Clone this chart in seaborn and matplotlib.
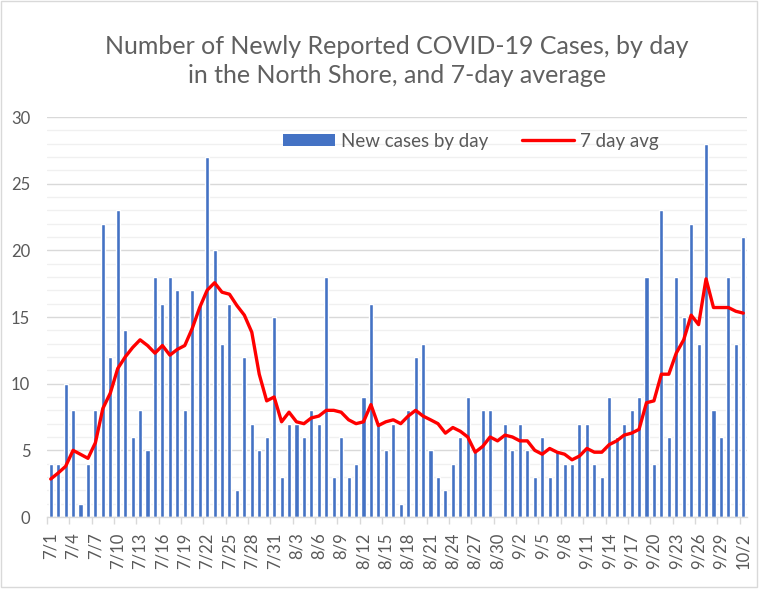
import matplotlib
matplotlib.use("Agg")
import matplotlib.pyplot as plt
from matplotlib.patches import Patch, Rectangle
from matplotlib.lines import Line2D
from matplotlib.ticker import MultipleLocator, FixedLocator
import seaborn as sns
import pandas as pd
import numpy as np

# ---- data ----
dates = (["7/%d" % d for d in range(1, 32)] +
         ["8/%d" % d for d in range(1, 32)] +
         ["9/%d" % d for d in range(1, 31)] +
         ["10/1", "10/2"])

new_cases = [4, 4, 10, 8, 1, 4, 8, 22, 12, 23,
             14, 6, 8, 5, 18, 16, 18, 17, 8, 17,
             16, 27, 20, 13, 16, 2, 12, 7, 5, 6,
             15, 3, 7, 7, 6, 8, 7, 18, 3, 6,
             3, 4, 9, 16, 7, 5, 7, 1, 8, 12,
             13, 5, 3, 2, 4, 6, 9, 5, 8, 8,
             0, 7, 5, 7, 5, 3, 6, 3, 5, 4,
             4, 7, 7, 4, 3, 9, 6, 7, 8, 9,
             18, 4, 23, 6, 18, 15, 22, 13, 28, 8,
             6, 18, 13, 21]

avg7 = [2.85, 3.3, 3.8, 5.0, 4.7, 4.4, 5.57, 8.14, 9.29, 11.14,
        12.0, 12.71, 13.29, 12.86, 12.29, 12.86, 12.14, 12.57, 12.86, 14.14,
        15.71, 17.0, 17.57, 16.86, 16.71, 15.86, 15.14, 13.86, 10.71, 8.71,
        9.0, 7.14, 7.86, 7.14, 7.0, 7.43, 7.57, 8.0, 8.0, 7.86,
        7.29, 7.0, 7.14, 8.43, 6.86, 7.14, 7.29, 7.0, 7.57, 8.0,
        7.57, 7.29, 7.0, 6.29, 6.71, 6.43, 6.0, 4.86, 5.29, 6.0,
        5.71, 6.14, 6.0, 5.71, 5.71, 5.0, 4.71, 5.14, 4.86, 4.71,
        4.29, 4.57, 5.14, 4.86, 4.86, 5.43, 5.71, 6.14, 6.29, 6.57,
        8.57, 8.71, 10.71, 10.71, 12.29, 13.29, 15.14, 14.43, 17.86, 15.71,
        15.71, 15.71, 15.43, 15.29]

title = "Number of Newly Reported COVID-19 Cases, by day\nin the North Shore, and 7-day average"
bar_label = "New cases by day"
line_label = "7 day avg"

df = pd.DataFrame({"date": dates, "cases": new_cases, "avg": avg7})
df["pos"] = np.arange(len(df))

# ---- figure ----
sns.set_theme(style="white")
plt.rcParams["font.family"] = ["Lato", "DejaVu Sans"]

W, H = 762, 589
fig = plt.figure(figsize=(W / 100, H / 100), dpi=100)
fig.patch.set_facecolor("white")
ax = fig.add_axes([47 / W, 72 / H, 700 / W, 400 / H])

blue = "#4472C4"
sns.barplot(data=df, x="pos", y="cases", color=blue, width=0.55,
            saturation=1, ax=ax, zorder=3)
sns.lineplot(data=df, x="pos", y="avg", color="#FF0000", linewidth=2.4,
             ax=ax, zorder=4)

ax.set_xlim(-0.5, len(df) - 0.5)
ax.set_ylim(0, 30)

# y axis
ax.yaxis.set_major_locator(MultipleLocator(5))
ax.yaxis.set_minor_locator(MultipleLocator(1))
ax.grid(axis="y", which="major", color="#d9d9d9", linewidth=1.0, zorder=0)
ax.grid(axis="y", which="minor", color="#f0f0f0", linewidth=1.0, zorder=0)
ax.grid(axis="x", visible=False)
ax.set_axisbelow(True)
ax.tick_params(axis="y", which="both", length=0, pad=12,
               labelsize=12, labelcolor="#595959")

# x axis
tick_pos = list(range(0, len(df), 3))
ax.xaxis.set_major_locator(FixedLocator(tick_pos))
ax.set_xticklabels([dates[i] for i in tick_pos], rotation=90)
ax.xaxis.set_minor_locator(FixedLocator([p - 0.5 for p in tick_pos]))
ax.tick_params(axis="x", which="major", length=0, pad=11,
               labelsize=12, labelcolor="#595959")
ax.tick_params(axis="x", which="minor", length=5, width=1, color="#d9d9d9",
               bottom=True)
ax.set_xlabel("")
ax.set_ylabel("")

for s in ["top", "right", "left"]:
    ax.spines[s].set_visible(False)
ax.spines["bottom"].set_color("#d9d9d9")
ax.spines["bottom"].set_linewidth(1)
ax.spines["bottom"].set_zorder(5)

# title
fig.text(397 / W, 1 - 61 / H, title, ha="center", va="center",
         fontsize=18, color="#606060", fontweight="normal",
         linespacing=1.36)

# legend
handles = [Patch(facecolor=blue, edgecolor="none", label=bar_label),
           Line2D([0], [0], color="#FF0000", linewidth=2.4, label=line_label)]
leg = fig.legend(handles=handles, loc="center",
                 bbox_to_anchor=(471 / W, 1 - 141 / H), ncol=2,
                 frameon=False, fontsize=13.5, handlelength=2.75,
                 handleheight=0.6, handletextpad=0.33, columnspacing=1.8,
                 labelcolor="#595959")

# chart area border
fig.patches.append(Rectangle((1 / W, 2 / H), 756 / W, 586 / H,
                             transform=fig.transFigure, fill=False,
                             edgecolor="#d9d9d9", linewidth=1))

fig.savefig("out.png", dpi=100, facecolor="white")
